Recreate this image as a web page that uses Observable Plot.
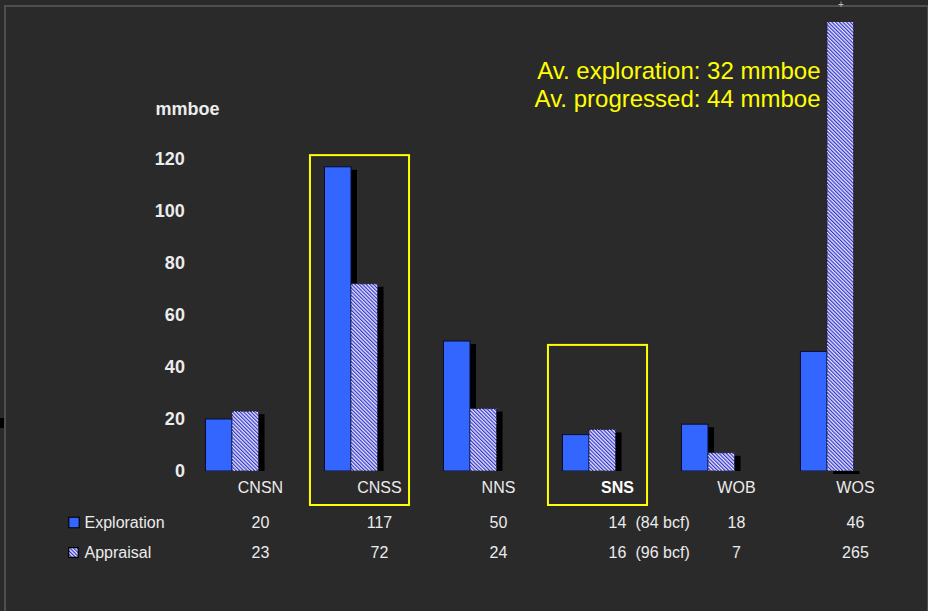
<!DOCTYPE html>
<html><head><meta charset="utf-8">
<script src="https://cdn.jsdelivr.net/npm/d3@7"></script>
<script src="https://cdn.jsdelivr.net/npm/@observablehq/plot@0.6"></script>
<style>
html,body{margin:0;padding:0;background:#2a2a2a;}
#wrap{position:relative;width:928px;height:611px;overflow:hidden;background:#2a2a2a;}
#border{position:absolute;left:4px;top:5px;width:921px;height:620px;border-left:2px solid #4e4e4e;border-top:2px solid #4e4e4e;border-right:1px solid #4e4e4e;}
#notch{position:absolute;left:0;top:418px;width:4px;height:10px;background:#000;}
#plus{position:absolute;left:838px;top:0px;color:#bbb;font:10px/10px "Liberation Sans",Arial,sans-serif;}
#chart{position:absolute;left:0;top:0;}
</style></head><body>
<div id="wrap"><div id="border"></div><div id="notch"></div><div id="plus">+</div><div id="chart"></div></div>
<script>
const categories = ["CNSN", "CNSS", "NNS", "SNS", "WOB", "WOS"];
const exploration = [20, 117, 50, 14, 18, 46];
const appraisal = [23, 72, 24, 16, 7, 265];
const notesExploration = ["", "", "", "(84 bcf)", "", ""];
const notesAppraisal = ["", "", "", "(96 bcf)", "", ""];
const yTicks = [0, 20, 40, 60, 80, 100, 120];
const highlighted = ["CNSS", "SNS"];
const highlightTop = [121.5, 48.5];
const boldCategory = "SNS";
const seriesNames = ["Exploration", "Appraisal"];
const unitLabel = "mmboe";
const avgExploration = 32;
const avgProgressed = 44;

const font = '"Liberation Sans", Arial, sans-serif';
const yMax = 172.7;
const bw = 0.223;   // bar width in category units
const lo = 0.235;   // label offset in category units
const rows = categories.map((c, i) => ({c, i, e: exploration[i], a: appraisal[i], ne: notesExploration[i], na: notesAppraisal[i]}));
const hl = highlighted.map((c, k) => ({i: categories.indexOf(c), top: highlightTop[k]}));
const blue = "#3366ff";

const svg = Plot.plot({
  width: 928,
  height: 611,
  marginLeft: 184.4,
  marginRight: 29.6,
  marginTop: 22,
  marginBottom: 140,
  style: {background: "transparent", color: "#ececec", fontFamily: font},
  x: {type: "linear", domain: [-0.4, categories.length - 0.4], axis: null},
  y: {domain: [0, yMax], axis: null},
  marks: [
    Plot.rect(hl, {x1: d => d.i - bw, x2: d => d.i + bw, y1: 0, y2: "top", fill: "none", stroke: "#ffff00", strokeWidth: 2, insetLeft: -14.5, insetRight: -31.5, insetBottom: -34}),
    Plot.rect(rows, {x1: d => d.i - bw, x2: d => d.i, y1: 0, y2: "e", fill: "black", dx: 6, dy: 3, clip: true}),
    Plot.rect(rows.filter(d => d.a <= yMax), {x1: d => d.i, x2: d => d.i + bw, y1: 0, y2: "a", fill: "black", dx: 6, dy: 3, clip: true}),
    Plot.rect(rows.filter(d => d.a > yMax), {x1: d => d.i, x2: d => d.i + bw, y1: 0, y2: 0, insetTop: -3, fill: "black", dx: 6, dy: 3}),
    Plot.rect(rows, {x1: d => d.i - bw, x2: d => d.i, y1: 0, y2: "e", fill: blue, stroke: "#0a0a30", strokeWidth: 1, clip: true}),
    Plot.rect(rows, {x1: d => d.i, x2: d => d.i + bw, y1: 0, y2: "a", fill: "url(#hatch)", stroke: "#202040", strokeWidth: 1, strokeDasharray: "2,1", clip: true}),
    Plot.axisY({ticks: yTicks, anchor: "left", tickSize: 0, tickPadding: 0, fontSize: 18, fontWeight: "bold", label: null, fill: "#ececec"}),
    Plot.text([unitLabel], {x: 0, y: 0, text: d => d, textAnchor: "start", lineAnchor: "middle", fontSize: 18, fontWeight: "bold", dx: 155 - 232, dy: -362}),
    Plot.text(rows.filter(d => d.c !== boldCategory), {x: d => d.i + lo, y: 0, text: "c", fontSize: 16, dy: 16}),
    Plot.text(rows.filter(d => d.c === boldCategory), {x: d => d.i + lo, y: 0, text: "c", fontSize: 16, fontWeight: "bold", fill: "#ffffff", dy: 16}),
    Plot.text(rows, {x: d => d.i + lo, y: 0, text: d => String(d.e), fontSize: 16, dy: 51}),
    Plot.text(rows, {x: d => d.i + lo, y: 0, text: d => String(d.a), fontSize: 16, dy: 81}),
    Plot.text(rows.filter(d => d.ne), {x: d => d.i + lo, y: 0, text: "ne", fontSize: 16, textAnchor: "start", dx: 18, dy: 51}),
    Plot.text(rows.filter(d => d.na), {x: d => d.i + lo, y: 0, text: "na", fontSize: 16, textAnchor: "start", dx: 18, dy: 81}),
    Plot.dot([seriesNames[0]], {x: 0, y: 0, symbol: "square", r: 5.9, fill: blue, stroke: "black", strokeWidth: 1.2, dx: -158.5, dy: 51}),
    Plot.dot([seriesNames[1]], {x: 0, y: 0, symbol: "square", r: 5.4, fill: "url(#hatch)", stroke: "black", strokeWidth: 1.2, dx: -159, dy: 81}),
    Plot.text([seriesNames[0]], {x: 0, y: 0, text: d => d, fontSize: 16, textAnchor: "start", dx: -148, dy: 51}),
    Plot.text([seriesNames[1]], {x: 0, y: 0, text: d => d, fontSize: 16, textAnchor: "start", dx: -148, dy: 81}),
    Plot.text([`Av. exploration: ${avgExploration} mmboe`], {frameAnchor: "top-right", lineAnchor: "middle", text: d => d, fontSize: 24, fill: "#ffff00", textAnchor: "end", dx: -78.4, dy: 49}),
    Plot.text([`Av. progressed: ${avgProgressed} mmboe`], {frameAnchor: "top-right", lineAnchor: "middle", text: d => d, fontSize: 24, fill: "#ffff00", textAnchor: "end", dx: -78.4, dy: 77})
  ]
});

const defs = d3.select(svg).insert("defs", ":first-child");
const p = defs.append("pattern").attr("id", "hatch").attr("patternUnits", "userSpaceOnUse")
  .attr("width", 2.6).attr("height", 2.6).attr("patternTransform", "rotate(-45)");
p.append("rect").attr("width", 2.6).attr("height", 2.6).attr("fill", "#e6e6fb");
p.append("rect").attr("width", 1.2).attr("height", 2.6).attr("fill", "#3434cc");

document.getElementById("chart").appendChild(svg);
</script>
</body></html>
